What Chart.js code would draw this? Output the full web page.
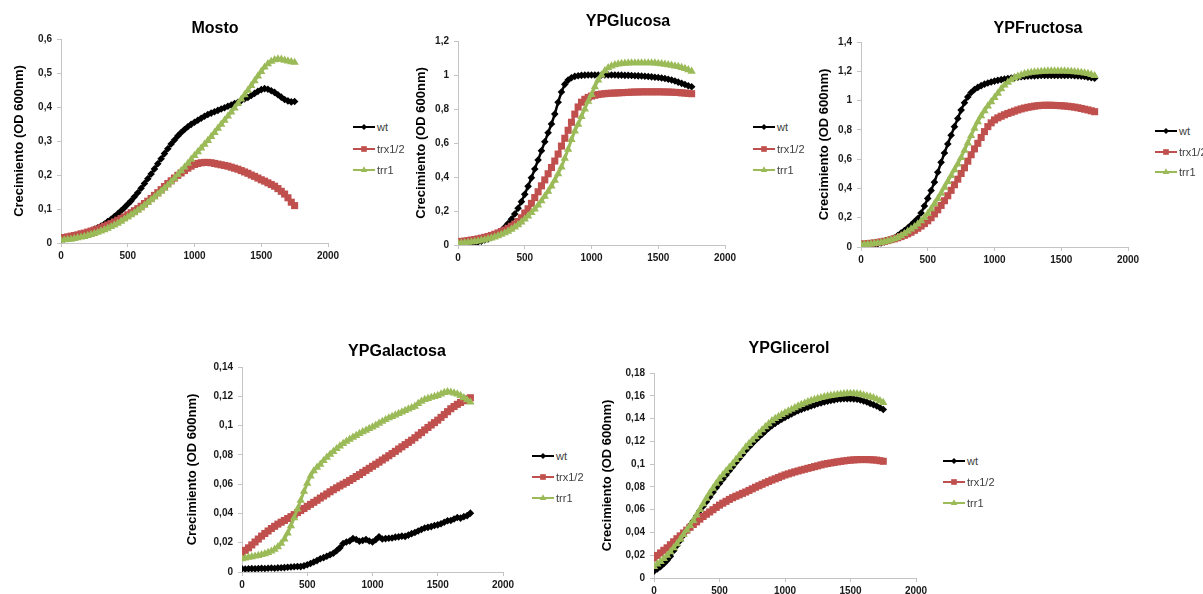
<!DOCTYPE html>
<html>
<head>
<meta charset="utf-8">
<title>Crecimiento en distintas fuentes de carbono</title>
<script src="https://cdn.jsdelivr.net/npm/chart.js@4.4.1/dist/chart.umd.min.js"></script>
<style>
  html, body { margin: 0; padding: 0; background: #fff; }
  body {
    position: relative;
    width: 1203px;
    height: 594px;
    overflow: hidden;
    font-family: "Liberation Sans", Arial, sans-serif;
  }
  canvas.plot { position: absolute; }
  .panel-title {
    position: absolute;
    transform: translate(-50%, -50%);
    font-size: 16px;
    font-weight: bold;
    color: #000;
    white-space: nowrap;
    line-height: 18px;
  }
  .legend-row {
    position: absolute;
    height: 12px;
    display: flex;
    align-items: center;
    white-space: nowrap;
  }
  .legend-row span {
    margin-left: 2px;
    font-size: 11px;
    line-height: 12px;
    color: #404040;
  }
</style>
</head>
<body>
<script>
// sampling times (x axis), shared by every panel
const times = [
  0, 25, 50, 75, 100, 125, 150, 175, 200, 225,
  250, 275, 300, 325, 350, 375, 400, 425, 450, 475,
  500, 525, 550, 575, 600, 625, 650, 675, 700, 725,
  750, 775, 800, 825, 850, 875, 900, 925, 950, 975,
  1000, 1025, 1050, 1075, 1100, 1125, 1150, 1175, 1200, 1225,
  1250, 1275, 1300, 1325, 1350, 1375, 1400, 1425, 1450, 1475,
  1500, 1525, 1550, 1575, 1600, 1625, 1650, 1675, 1700, 1725,
  1750
];

const strains = ['wt', 'trx1/2', 'trr1'];

// Mosto
const mostoWt = [
  0.010, 0.012, 0.014, 0.016, 0.018, 0.020, 0.023, 0.027, 0.031, 0.035,
  0.040, 0.045, 0.050, 0.056, 0.063, 0.070, 0.078, 0.086, 0.095, 0.104,
  0.114, 0.124, 0.136, 0.148, 0.161, 0.175, 0.189, 0.203, 0.218, 0.233,
  0.248, 0.263, 0.277, 0.291, 0.303, 0.315, 0.325, 0.334, 0.342, 0.349,
  0.355, 0.361, 0.367, 0.373, 0.378, 0.382, 0.386, 0.390, 0.394, 0.398,
  0.402, 0.406, 0.410, 0.414, 0.419, 0.424, 0.428, 0.434, 0.440, 0.446,
  0.451, 0.454, 0.452, 0.448, 0.443, 0.436, 0.429, 0.422, 0.418, 0.415,
  0.416
];
const mostoTrx = [
  0.015, 0.016, 0.018, 0.020, 0.022, 0.024, 0.027, 0.029, 0.032, 0.035,
  0.038, 0.041, 0.045, 0.049, 0.053, 0.057, 0.062, 0.067, 0.072, 0.077,
  0.083, 0.089, 0.095, 0.101, 0.108, 0.116, 0.123, 0.131, 0.140, 0.148,
  0.157, 0.166, 0.175, 0.183, 0.191, 0.199, 0.206, 0.213, 0.220, 0.226,
  0.231, 0.234, 0.236, 0.237, 0.237, 0.236, 0.234, 0.232, 0.230, 0.228,
  0.226, 0.223, 0.220, 0.217, 0.213, 0.209, 0.205, 0.200, 0.196, 0.191,
  0.186, 0.182, 0.177, 0.172, 0.167, 0.160, 0.152, 0.144, 0.133, 0.120,
  0.110
];
const mostoTrr = [
  0.008, 0.009, 0.010, 0.011, 0.013, 0.015, 0.017, 0.019, 0.022, 0.025,
  0.028, 0.031, 0.035, 0.039, 0.043, 0.048, 0.053, 0.058, 0.064, 0.070,
  0.076, 0.083, 0.089, 0.096, 0.103, 0.111, 0.119, 0.127, 0.135, 0.144,
  0.152, 0.161, 0.170, 0.180, 0.190, 0.201, 0.212, 0.223, 0.234, 0.246,
  0.257, 0.268, 0.279, 0.290, 0.301, 0.313, 0.325, 0.337, 0.349, 0.361,
  0.373, 0.385, 0.397, 0.410, 0.423, 0.436, 0.449, 0.463, 0.477, 0.491,
  0.504, 0.517, 0.527, 0.534, 0.539, 0.541, 0.540, 0.537, 0.535, 0.533,
  0.531
];

// YPGlucosa
const glucosaWt = [
  0.002, 0.003, 0.005, 0.007, 0.010, 0.014, 0.018, 0.023, 0.029, 0.036,
  0.045, 0.056, 0.069, 0.085, 0.104, 0.126, 0.152, 0.182, 0.216, 0.255,
  0.298, 0.345, 0.395, 0.447, 0.500, 0.554, 0.607, 0.660, 0.712, 0.770,
  0.840, 0.900, 0.945, 0.970, 0.984, 0.992, 0.996, 0.998, 0.999, 1.000,
  1.000, 1.000, 1.000, 1.000, 1.000, 1.000, 1.000, 1.000, 0.999, 0.999,
  0.998, 0.998, 0.997, 0.996, 0.995, 0.994, 0.993, 0.991, 0.989, 0.987,
  0.985, 0.982, 0.979, 0.975, 0.971, 0.965, 0.958, 0.951, 0.944, 0.937,
  0.931
];
const glucosaTrx = [
  0.020, 0.021, 0.023, 0.026, 0.029, 0.032, 0.036, 0.040, 0.045, 0.050,
  0.056, 0.063, 0.071, 0.079, 0.088, 0.098, 0.110, 0.123, 0.138, 0.160,
  0.188, 0.213, 0.245, 0.279, 0.313, 0.348, 0.383, 0.419, 0.456, 0.494,
  0.535, 0.582, 0.628, 0.675, 0.722, 0.770, 0.812, 0.840, 0.857, 0.868,
  0.876, 0.881, 0.885, 0.888, 0.890, 0.892, 0.893, 0.894, 0.895, 0.896,
  0.897, 0.898, 0.899, 0.900, 0.900, 0.901, 0.901, 0.901, 0.901, 0.901,
  0.901, 0.901, 0.900, 0.900, 0.899, 0.898, 0.897, 0.895, 0.894, 0.892,
  0.890
];
const glucosaTrr = [
  0.010, 0.011, 0.013, 0.015, 0.017, 0.020, 0.023, 0.027, 0.031, 0.036,
  0.041, 0.047, 0.054, 0.062, 0.071, 0.081, 0.092, 0.105, 0.119, 0.135,
  0.152, 0.170, 0.190, 0.211, 0.234, 0.259, 0.286, 0.315, 0.347, 0.381,
  0.418, 0.458, 0.510, 0.563, 0.620, 0.670, 0.710, 0.755, 0.800, 0.845,
  0.885, 0.930, 0.970, 1.000, 1.025, 1.042, 1.053, 1.060, 1.064, 1.067,
  1.069, 1.070, 1.071, 1.071, 1.071, 1.071, 1.071, 1.071, 1.071, 1.070,
  1.068, 1.066, 1.063, 1.060, 1.057, 1.053, 1.049, 1.044, 1.038, 1.030,
  1.022
];

// YPFructosa
const fructosaWt = [
  0.003, 0.006, 0.009, 0.013, 0.017, 0.022, 0.028, 0.035, 0.043, 0.052,
  0.063, 0.078, 0.095, 0.112, 0.130, 0.150, 0.172, 0.195, 0.232, 0.280,
  0.332, 0.386, 0.443, 0.510, 0.578, 0.642, 0.703, 0.763, 0.822, 0.878,
  0.935, 0.985, 1.025, 1.055, 1.076, 1.090, 1.102, 1.112, 1.120, 1.127,
  1.133, 1.138, 1.143, 1.147, 1.151, 1.154, 1.157, 1.160, 1.163, 1.165,
  1.167, 1.168, 1.169, 1.170, 1.171, 1.171, 1.172, 1.172, 1.172, 1.172,
  1.172, 1.172, 1.172, 1.171, 1.170, 1.169, 1.167, 1.164, 1.160, 1.156,
  1.152
];
const fructosaTrx = [
  0.020, 0.021, 0.023, 0.025, 0.028, 0.031, 0.035, 0.039, 0.044, 0.050,
  0.056, 0.063, 0.071, 0.080, 0.090, 0.101, 0.114, 0.128, 0.143, 0.160,
  0.179, 0.200, 0.226, 0.254, 0.284, 0.316, 0.350, 0.387, 0.425, 0.463,
  0.502, 0.541, 0.586, 0.630, 0.670, 0.708, 0.748, 0.788, 0.822, 0.848,
  0.868, 0.882, 0.893, 0.903, 0.912, 0.920, 0.928, 0.936, 0.943, 0.949,
  0.954, 0.958, 0.962, 0.965, 0.967, 0.968, 0.968, 0.968, 0.967, 0.966,
  0.965, 0.963, 0.961, 0.958, 0.955, 0.951, 0.946, 0.941, 0.936, 0.930,
  0.924
];
const fructosaTrr = [
  0.015, 0.016, 0.018, 0.020, 0.023, 0.026, 0.030, 0.035, 0.040, 0.047,
  0.055, 0.065, 0.077, 0.091, 0.107, 0.122, 0.138, 0.157, 0.178, 0.200,
  0.228, 0.260, 0.295, 0.330, 0.367, 0.408, 0.447, 0.487, 0.527, 0.566,
  0.610, 0.660, 0.710, 0.760, 0.810, 0.855, 0.895, 0.930, 0.962, 0.992,
  1.020, 1.050, 1.080, 1.105, 1.125, 1.142, 1.155, 1.166, 1.175, 1.182,
  1.188, 1.192, 1.195, 1.197, 1.199, 1.200, 1.201, 1.202, 1.202, 1.202,
  1.202, 1.201, 1.200, 1.199, 1.197, 1.195, 1.192, 1.188, 1.184, 1.178,
  1.170
];

// YPGalactosa
const galactosaWt = [
  0.0022, 0.0021, 0.0022, 0.0023, 0.0022, 0.0024, 0.0025, 0.0024, 0.0026, 0.0027,
  0.0026, 0.0028, 0.0029, 0.0030, 0.0032, 0.0034, 0.0036, 0.0038, 0.0037, 0.0042,
  0.0050, 0.0058, 0.0068, 0.0078, 0.0090, 0.0098, 0.0108, 0.0118, 0.0128, 0.0145,
  0.0165, 0.0195, 0.0205, 0.0212, 0.0228, 0.0222, 0.0210, 0.0215, 0.0222, 0.0212,
  0.0205, 0.0220, 0.0240, 0.0225, 0.0228, 0.0230, 0.0232, 0.0238, 0.0240, 0.0245,
  0.0243, 0.0252, 0.0262, 0.0270, 0.0280, 0.0290, 0.0300, 0.0305, 0.0310, 0.0318,
  0.0322, 0.0330, 0.0340, 0.0350, 0.0352, 0.0362, 0.0372, 0.0368, 0.0378, 0.0385,
  0.0402
];
const galactosaTrx = [
  0.0130, 0.0148, 0.0165, 0.0185, 0.0205, 0.0225, 0.0245, 0.0263, 0.0280, 0.0297,
  0.0312, 0.0327, 0.0340, 0.0352, 0.0365, 0.0378, 0.0392, 0.0406, 0.0420, 0.0434,
  0.0448, 0.0462, 0.0476, 0.0490, 0.0505, 0.0519, 0.0533, 0.0548, 0.0562, 0.0575,
  0.0588, 0.0600, 0.0612, 0.0625, 0.0638, 0.0652, 0.0665, 0.0680, 0.0694, 0.0708,
  0.0722, 0.0736, 0.0750, 0.0765, 0.0779, 0.0794, 0.0809, 0.0824, 0.0840, 0.0855,
  0.0870, 0.0885, 0.0900, 0.0917, 0.0935, 0.0952, 0.0970, 0.0987, 0.1004, 0.1020,
  0.1037, 0.1056, 0.1075, 0.1095, 0.1115, 0.1130, 0.1145, 0.1158, 0.1170, 0.1182,
  0.1190
];
const galactosaTrr = [
  0.0090, 0.0095, 0.0100, 0.0104, 0.0108, 0.0112, 0.0118, 0.0124, 0.0132, 0.0142,
  0.0155, 0.0172, 0.0195, 0.0225, 0.0265, 0.0315, 0.0370, 0.0430, 0.0490, 0.0550,
  0.0605, 0.0655, 0.0690, 0.0715, 0.0735, 0.0760, 0.0783, 0.0803, 0.0822, 0.0842,
  0.0860, 0.0877, 0.0893, 0.0906, 0.0920, 0.0932, 0.0945, 0.0957, 0.0968, 0.0980,
  0.0990, 0.1002, 0.1015, 0.1028, 0.1040, 0.1052, 0.1062, 0.1072, 0.1082, 0.1092,
  0.1102, 0.1112, 0.1122, 0.1132, 0.1150, 0.1165, 0.1178, 0.1185, 0.1192, 0.1198,
  0.1205, 0.1215, 0.1225, 0.1230, 0.1228, 0.1222, 0.1215, 0.1205, 0.1190, 0.1175,
  0.1160
];

// YPGlicerol
const glicerolWt = [
  0.0060, 0.0080, 0.0100, 0.0125, 0.0155, 0.0190, 0.0240, 0.0285, 0.0330, 0.0375,
  0.0420, 0.0462, 0.0500, 0.0545, 0.0590, 0.0630, 0.0670, 0.0712, 0.0752, 0.0792,
  0.0830, 0.0868, 0.0905, 0.0942, 0.0977, 0.1014, 0.1050, 0.1085, 0.1120, 0.1150,
  0.1180, 0.1210, 0.1237, 0.1263, 0.1290, 0.1315, 0.1338, 0.1358, 0.1377, 0.1395,
  0.1410, 0.1425, 0.1440, 0.1455, 0.1468, 0.1480, 0.1490, 0.1500, 0.1510, 0.1520,
  0.1530, 0.1538, 0.1546, 0.1552, 0.1558, 0.1564, 0.1569, 0.1572, 0.1574, 0.1575,
  0.1575, 0.1573, 0.1570, 0.1563, 0.1555, 0.1545, 0.1533, 0.1522, 0.1510, 0.1495,
  0.1480
];
const glicerolTrx = [
  0.0175, 0.0198, 0.0220, 0.0243, 0.0265, 0.0292, 0.0318, 0.0345, 0.0370, 0.0395,
  0.0420, 0.0445, 0.0470, 0.0493, 0.0517, 0.0540, 0.0560, 0.0580, 0.0600, 0.0620,
  0.0640, 0.0657, 0.0673, 0.0690, 0.0705, 0.0718, 0.0730, 0.0743, 0.0755, 0.0769,
  0.0783, 0.0797, 0.0810, 0.0823, 0.0836, 0.0848, 0.0860, 0.0871, 0.0882, 0.0894,
  0.0905, 0.0914, 0.0923, 0.0932, 0.0940, 0.0948, 0.0955, 0.0963, 0.0970, 0.0978,
  0.0985, 0.0993, 0.1000, 0.1005, 0.1010, 0.1015, 0.1020, 0.1024, 0.1028, 0.1032,
  0.1035, 0.1037, 0.1039, 0.1040, 0.1040, 0.1040, 0.1039, 0.1037, 0.1035, 0.1030,
  0.1025
];
const glicerolTrr = [
  0.0100, 0.0122, 0.0145, 0.0170, 0.0198, 0.0230, 0.0265, 0.0300, 0.0340, 0.0380,
  0.0420, 0.0460, 0.0505, 0.0552, 0.0600, 0.0650, 0.0700, 0.0745, 0.0788, 0.0830,
  0.0870, 0.0905, 0.0940, 0.0972, 0.1003, 0.1040, 0.1075, 0.1110, 0.1150, 0.1180,
  0.1210, 0.1240, 0.1270, 0.1300, 0.1327, 0.1354, 0.1380, 0.1400, 0.1418, 0.1435,
  0.1450, 0.1465, 0.1480, 0.1495, 0.1510, 0.1523, 0.1535, 0.1547, 0.1558, 0.1567,
  0.1575, 0.1583, 0.1590, 0.1597, 0.1602, 0.1606, 0.1610, 0.1614, 0.1617, 0.1619,
  0.1620, 0.1619, 0.1617, 0.1612, 0.1605, 0.1598, 0.1590, 0.1582, 0.1570, 0.1555,
  0.1540
];

// series look: black diamonds, red squares, green triangles
const seriesStyle = [
  { color: '#000000', pointStyle: 'rectRot', radius: 3.8, line: 2.5 },
  { color: '#C0504D', pointStyle: 'rect', radius: 5, line: 3 },
  { color: '#9BBB59', pointStyle: 'triangle', radius: 4.8, line: 3 }
];

// where each panel sits on the page: plot box [left, right, top, bottom],
// centre of the rotated axis title, centre of the heading, legend start
const panels = [
  { title: 'Mosto', yMax: 0.6, yStep: 0.1, series: [mostoWt, mostoTrx, mostoTrr],
    plot: [61, 328, 36, 243], yTitleX: 20, titleAt: [215, 28], legend: [353, 127, 21.5] },
  { title: 'YPGlucosa', yMax: 1.2, yStep: 0.2, series: [glucosaWt, glucosaTrx, glucosaTrr],
    plot: [458, 725, 38, 245], yTitleX: 422, titleAt: [628, 21], legend: [753, 127, 21.7] },
  { title: 'YPFructosa', yMax: 1.4, yStep: 0.2, series: [fructosaWt, fructosaTrx, fructosaTrr],
    plot: [861, 1128, 39, 247], yTitleX: 825, titleAt: [1038, 28], legend: [1155, 131, 20.5] },
  { title: 'YPGalactosa', yMax: 0.14, yStep: 0.02, series: [galactosaWt, galactosaTrx, galactosaTrr],
    plot: [242, 503, 364, 572], yTitleX: 193, titleAt: [397, 351], legend: [532, 456, 20.8] },
  { title: 'YPGlicerol', yMax: 0.18, yStep: 0.02, series: [glicerolWt, glicerolTrx, glicerolTrr],
    plot: [654, 916, 370, 578], yTitleX: 608, titleAt: [789, 348], legend: [943, 461, 21.1] }
];

const AXIS_COLOR = '#c4c4c4';
const TICK_COLOR = '#1a1a1a';
const FONT = '"Liberation Sans", Arial, sans-serif';
const AXIS_TITLE_SIZE = 13;
const AXIS_TITLE_PAD = 4;
const PAD_TOP = 8;
const PAD_RIGHT = 16;
const X_AXIS_HEIGHT = 30;

// decimal comma, as in the Spanish locale
function formatTick(value) {
  return String(Number(value.toFixed(3))).replace('.', ',');
}

// plain integers on the time axis, no thousands separator
function formatTime(value) {
  return String(Math.round(value));
}

function drawMarker(ctx, style, x, y) {
  ctx.fillStyle = style.color;
  ctx.strokeStyle = style.color;
  if (Chart.helpers && Chart.helpers.drawPoint) {
    Chart.helpers.drawPoint(ctx, { pointStyle: style.pointStyle, radius: style.radius * 0.8, rotation: 0, borderWidth: 0 }, x, y);
  } else {
    ctx.beginPath();
    ctx.arc(x, y, 3, 0, Math.PI * 2);
    ctx.fill();
  }
}

function buildLegend(chart, panel) {
  const [lx, ly, step] = panel.legend;
  chart.data.datasets.forEach((ds, i) => {
    const style = seriesStyle[i];
    const row = document.createElement('div');
    row.className = 'legend-row';
    row.style.left = lx + 'px';
    row.style.top = (ly + i * step - 6) + 'px';

    const swatch = document.createElement('canvas');
    swatch.width = 22;
    swatch.height = 12;
    const ctx = swatch.getContext('2d');
    ctx.strokeStyle = style.color;
    ctx.lineWidth = 2;
    ctx.beginPath();
    ctx.moveTo(0, 6);
    ctx.lineTo(22, 6);
    ctx.stroke();
    drawMarker(ctx, style, 11, 6);

    const label = document.createElement('span');
    label.textContent = ds.label;

    row.appendChild(swatch);
    row.appendChild(label);
    document.body.appendChild(row);
  });
}

panels.forEach(panel => {
  const [x0, x1, y0, y1] = panel.plot;
  const lineHeight = AXIS_TITLE_SIZE * 1.2;
  const left = Math.round(panel.yTitleX - AXIS_TITLE_PAD - lineHeight / 2);
  const yAxisWidth = x0 - left;
  const width = (x1 - x0) + yAxisWidth + PAD_RIGHT;
  const top = y0 - PAD_TOP;
  const height = (y1 - y0) + PAD_TOP + X_AXIS_HEIGHT;

  const canvas = document.createElement('canvas');
  canvas.className = 'plot';
  canvas.width = width;
  canvas.height = height;
  canvas.style.left = left + 'px';
  canvas.style.top = top + 'px';
  canvas.style.width = width + 'px';
  canvas.style.height = height + 'px';
  document.body.appendChild(canvas);

  const heading = document.createElement('div');
  heading.className = 'panel-title';
  heading.textContent = panel.title;
  heading.style.left = panel.titleAt[0] + 'px';
  heading.style.top = panel.titleAt[1] + 'px';
  document.body.appendChild(heading);

  const datasets = panel.series.map((values, i) => {
    const style = seriesStyle[i];
    return {
      label: strains[i],
      data: values.map((v, k) => ({ x: times[k], y: v })),
      borderColor: style.color,
      backgroundColor: style.color,
      borderWidth: style.line,
      pointStyle: style.pointStyle,
      pointRadius: style.radius,
      pointBorderWidth: 0,
      pointHoverRadius: style.radius,
      tension: 0,
      order: 3 - i // later strains drawn on top
    };
  });

  const chart = new Chart(canvas, {
    type: 'line',
    data: { datasets },
    options: {
      responsive: false,
      maintainAspectRatio: false,
      animation: false,
      devicePixelRatio: 1,
      layout: { padding: { left: 0, right: PAD_RIGHT, top: PAD_TOP, bottom: 0 } },
      plugins: {
        legend: { display: false },
        title: { display: false },
        tooltip: { enabled: false }
      },
      events: [],
      scales: {
        x: {
          type: 'linear',
          min: 0,
          max: 2000,
          ticks: {
            stepSize: 500,
            maxRotation: 0,
            padding: 3,
            color: TICK_COLOR,
            font: { family: FONT, size: 10, weight: 'bold' },
            callback: formatTime
          },
          grid: { drawOnChartArea: false, drawTicks: true, tickLength: 4, color: AXIS_COLOR },
          border: { color: AXIS_COLOR, width: 1 },
          afterFit(scale) { scale.height = X_AXIS_HEIGHT; }
        },
        y: {
          type: 'linear',
          min: 0,
          max: panel.yMax,
          ticks: {
            stepSize: panel.yStep,
            padding: 5,
            color: TICK_COLOR,
            font: { family: FONT, size: 10, weight: 'bold' },
            callback: formatTick
          },
          grid: { drawOnChartArea: false, drawTicks: true, tickLength: 4, color: AXIS_COLOR },
          border: { color: AXIS_COLOR, width: 1 },
          title: {
            display: true,
            text: 'Crecimiento (OD 600nm)',
            color: '#000',
            padding: { top: AXIS_TITLE_PAD, bottom: AXIS_TITLE_PAD },
            font: { family: FONT, size: AXIS_TITLE_SIZE, weight: 'bold' }
          },
          afterFit(scale) { scale.width = yAxisWidth; }
        }
      }
    }
  });

  buildLegend(chart, panel);
});
</script>
</body>
</html>
